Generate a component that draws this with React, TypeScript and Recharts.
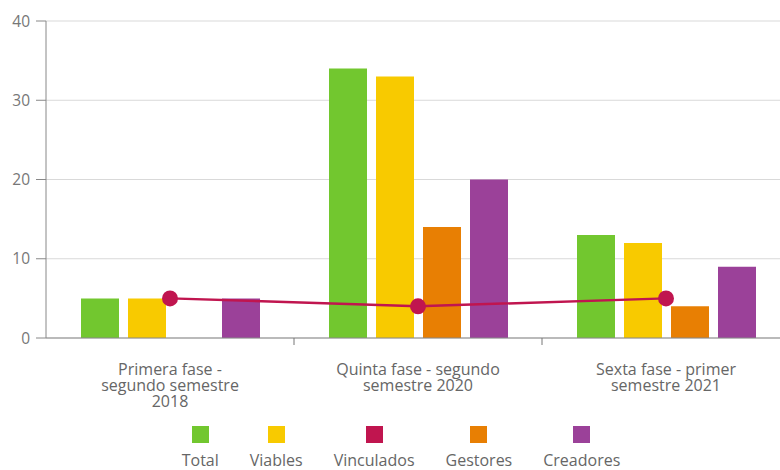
import React from 'react';
import { ComposedChart, Bar, Line, XAxis, YAxis, CartesianGrid } from 'recharts';

const categories = [
  'Primera fase - segundo semestre 2018',
  'Quinta fase - segundo semestre 2020',
  'Sexta fase - primer semestre 2021',
];
const tickLines = [
  ['Primera fase -', 'segundo semestre', '2018'],
  ['Quinta fase - segundo', 'semestre 2020'],
  ['Sexta fase - primer', 'semestre 2021'],
];
const total = [5, 34, 13];
const viables = [5, 33, 12];
const vinculados = [5, 4, 5];
const gestores = [0, 14, 4];
const creadores = [5, 20, 9];
const yTicks = [0, 10, 20, 30, 40];

const seriesNames = ['Total', 'Viables', 'Vinculados', 'Gestores', 'Creadores'];
const seriesColors = ['#72c72f', '#f8ca00', '#c0154f', '#e87f03', '#9b4199'];

const data = categories.map((name, i) => ({
  name,
  Total: total[i],
  Viables: viables[i],
  Vinculados: vinculados[i],
  Gestores: gestores[i],
  Creadores: creadores[i],
}));

const CHART_W = 790;
const CHART_H = 470;
const Y_AXIS_W = 46;
const BAND = (CHART_W - Y_AXIS_W) / categories.length;
const FONT = '"Open Sans", "Noto Sans", sans-serif';

// category label under the center, small tick at the band boundary
const CategoryTick = ({ x, y, payload, index }: any) => {
  const lines = tickLines[payload?.index ?? index] || [String(payload.value)];
  return (
    <g>
      <line x1={x + BAND / 2} y1={y} x2={x + BAND / 2} y2={y + 7} stroke="#777" strokeWidth={1} />
      <text x={x} y={y + 37} textAnchor="middle" fill="#666" fontSize={16} fontFamily={FONT}>
        {lines.map((l: string, i: number) => (
          <tspan key={i} x={x} dy={i === 0 ? 0 : 16}>
            {l}
          </tspan>
        ))}
      </text>
    </g>
  );
};

function ChartLegend() {
  return (
    <div
      style={{
        position: 'absolute',
        top: 426,
        left: 0,
        width: 780,
        display: 'flex',
        justifyContent: 'center',
        gap: 31,
        paddingLeft: 22,
        boxSizing: 'border-box',
        fontFamily: FONT,
        fontSize: 16,
        color: '#666',
      }}
    >
      {seriesNames.map((n, i) => (
        <div key={n} style={{ display: 'flex', flexDirection: 'column', alignItems: 'center' }}>
          <div style={{ width: 17, height: 17, background: seriesColors[i] }} />
          <div style={{ marginTop: 7, lineHeight: '20px' }}>{n}</div>
        </div>
      ))}
    </div>
  );
}

export default function App() {
  return (
    <div
      style={{
        position: 'absolute',
        top: 0,
        left: 0,
        width: 780,
        height: 470,
        overflow: 'hidden',
        background: '#fff',
      }}
    >
      <ComposedChart
        width={CHART_W}
        height={CHART_H}
        data={data}
        margin={{ top: 21, right: 0, left: 0, bottom: 0 }}
        barGap={9}
      >
        <CartesianGrid vertical={false} stroke="#d9d9d9" />
        <XAxis
          dataKey="name"
          height={132}
          interval={0}
          tickSize={0}
          tickMargin={0}
          tick={<CategoryTick />}
          axisLine={{ stroke: '#888' }}
          tickLine={false}
        />
        <YAxis
          width={Y_AXIS_W}
          domain={[0, 40]}
          ticks={yTicks}
          tickSize={10}
          tickMargin={6}
          axisLine={{ stroke: '#888' }}
          tickLine={{ stroke: '#888' }}
          tick={{ fill: '#777', fontSize: 15.5, fontFamily: FONT }}
        />
        <Bar dataKey="Total" fill={seriesColors[0]} barSize={38} isAnimationActive={false} />
        <Bar dataKey="Viables" fill={seriesColors[1]} barSize={38} isAnimationActive={false} />
        <Line
          dataKey="Vinculados"
          stroke={seriesColors[2]}
          strokeWidth={2.5}
          dot={{ r: 8, fill: seriesColors[2], stroke: seriesColors[2], strokeWidth: 0 }}
          isAnimationActive={false}
        />
        <Bar dataKey="Gestores" fill={seriesColors[3]} barSize={38} isAnimationActive={false} />
        <Bar dataKey="Creadores" fill={seriesColors[4]} barSize={38} isAnimationActive={false} />
      </ComposedChart>
      <ChartLegend />
    </div>
  );
}
